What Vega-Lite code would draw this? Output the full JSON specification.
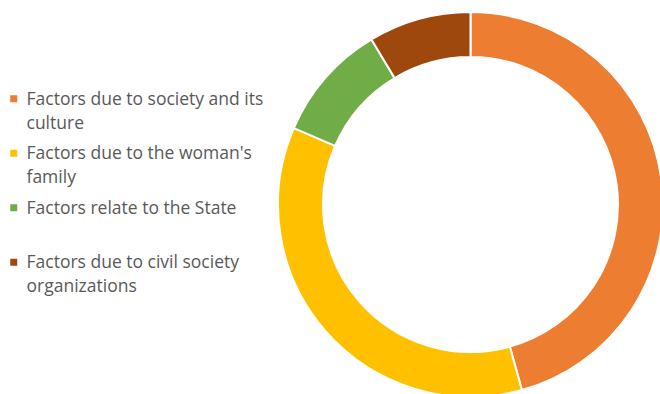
{
  "$schema": "https://vega.github.io/schema/vega-lite/v6.json",
  "width": 941,
  "height": 409,
  "padding": 0,
  "autosize": {"type": "none"},
  "background": "white",
  "data": {
    "values": [
      {"factor": "Factors due to society and its|culture", "share": 45.7, "order": 1},
      {"factor": "Factors due to the woman's|family", "share": 35.8, "order": 2},
      {"factor": "Factors relate to the State|", "share": 9.9, "order": 3},
      {"factor": "Factors due to civil society|organizations", "share": 8.6, "order": 4}
    ]
  },
  "mark": {"type": "arc", "radius": 192.5, "radius2": 147.5, "stroke": "white", "strokeWidth": 2},
  "encoding": {
    "theta": {"field": "share", "type": "quantitative", "stack": true},
    "order": {"field": "order", "type": "quantitative"},
    "color": {
      "field": "factor",
      "type": "nominal",
      "sort": null,
      "scale": {
        "domain": ["Factors due to society and its|culture", "Factors due to the woman's|family", "Factors relate to the State|", "Factors due to civil society|organizations"],
        "range": ["#ED7D31", "#FFC000", "#70AD47", "#9E480E"]
      },
      "legend": {
        "orient": "none",
        "legendX": 5,
        "legendY": 90,
        "title": null,
        "symbolType": "square",
        "symbolSize": 49,
        "symbolStrokeWidth": 0,
        "labelExpr": "split(datum.label, '|')",
        "labelFont": "Open Sans",
        "labelFontSize": 17.5,
        "labelColor": "#595959",
        "labelLimit": 400,
        "labelOffset": 4,
        "rowPadding": 11.5,
        "labelBaseline": "top"
      }
    }
  },
  "config": {
    "view": {"stroke": null},
    "style": {"guide-label": {"lineHeight": 24, "dy": -8}}
  }
}
